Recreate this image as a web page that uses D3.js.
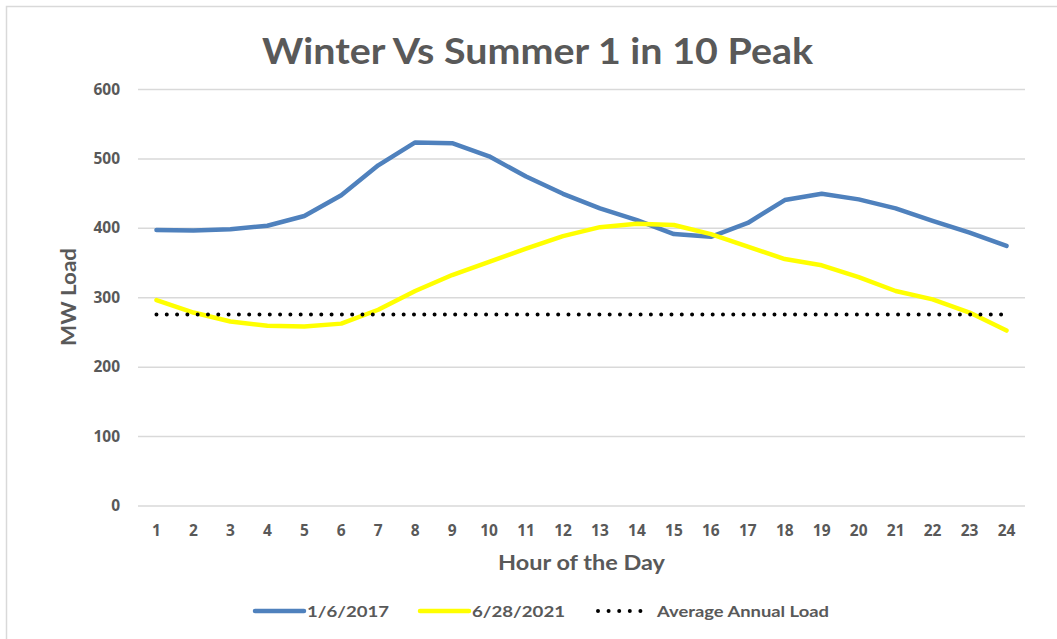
<!DOCTYPE html>
<html>
<head>
<meta charset="utf-8">
<script src="https://cdn.jsdelivr.net/npm/d3@7"></script>
<style>
  html, body { margin: 0; padding: 0; background: #fff; }
  svg { display: block; }
</style>
</head>
<body>
<svg id="chart" width="1057" height="639"></svg>
<script>
// Data
const hours = d3.range(1, 25);
const winter = [397, 396, 398, 403, 417, 447, 490, 523, 522, 503, 474, 449, 428, 411, 391, 387, 407, 440, 449, 441, 428, 410, 393, 374];
const summer = [296, 278, 265, 259, 258, 262, 282, 309, 332, 351, 370, 388, 401, 406, 404, 391, 373, 355, 346, 329, 309, 297, 278, 252];
const avgLoad = 275;
const yTicks = [0, 100, 200, 300, 400, 500, 600];
const seriesNames = ['1/6/2017', '6/28/2021', 'Average Annual Load'];

const svg = d3.select('#chart');
const textColor = '#595959';

// frame (right and bottom edges fall outside the picture)
svg.append('rect')
  .attr('x', 6.5).attr('y', 6.5)
  .attr('width', 1100).attr('height', 700)
  .attr('fill', 'none')
  .attr('stroke', '#d9d9d9')
  .attr('stroke-width', 1.5);

const x = d3.scaleBand().domain(hours).range([138, 1025]);
const xc = (h) => x(h) + x.bandwidth() / 2;
const y = d3.scaleLinear().domain([0, 600]).range([505.5, 89]);

// gridlines
svg.append('g')
  .attr('transform', 'translate(138,0)')
  .call(d3.axisLeft(y).tickValues(yTicks).tickSize(-887).tickFormat(''))
  .call((g) => g.select('.domain').remove())
  .call((g) => g.selectAll('line').attr('stroke', '#d9d9d9').attr('stroke-width', 1.5));

// y tick labels
svg.append('g')
  .selectAll('text')
  .data(yTicks)
  .enter()
  .append('text')
  .attr('x', 120)
  .attr('y', (d) => y(d))
  .attr('dy', '0.36em')
  .attr('text-anchor', 'end')
  .style('font-family', '"Open Sans", sans-serif')
  .style('font-weight', 700)
  .style('font-size', '15.5px')
  .attr('fill', textColor)
  .text((d) => d);

// x tick labels
svg.append('g')
  .selectAll('text')
  .data(hours)
  .enter()
  .append('text')
  .attr('x', (d) => xc(d))
  .attr('y', 536)
  .attr('text-anchor', 'middle')
  .style('font-family', '"Open Sans", sans-serif')
  .style('font-weight', 700)
  .style('font-size', '15.5px')
  .attr('fill', textColor)
  .text((d) => d);

// title + axis titles
svg.append('text')
  .attr('x', 537.5)
  .attr('y', 64)
  .attr('text-anchor', 'middle')
  .attr('textLength', 551)
  .attr('lengthAdjust', 'spacingAndGlyphs')
  .style('font-family', 'Lato, sans-serif')
  .style('font-weight', 700)
  .style('font-size', '37px')
  .attr('fill', textColor)
  .text('Winter Vs Summer 1 in 10 Peak');

svg.append('text')
  .attr('transform', 'translate(76,297) rotate(-90)')
  .attr('text-anchor', 'middle')
  .attr('textLength', 98)
  .attr('lengthAdjust', 'spacingAndGlyphs')
  .style('font-family', 'Lato, sans-serif')
  .style('font-weight', 700)
  .style('font-size', '20px')
  .attr('fill', textColor)
  .text('MW Load');

svg.append('text')
  .attr('x', 581.5)
  .attr('y', 570)
  .attr('text-anchor', 'middle')
  .attr('textLength', 167)
  .attr('lengthAdjust', 'spacingAndGlyphs')
  .style('font-family', 'Lato, sans-serif')
  .style('font-weight', 700)
  .style('font-size', '20px')
  .attr('fill', textColor)
  .text('Hour of the Day');

// lines
const line = d3.line()
  .x((d, i) => xc(hours[i]))
  .y((d) => y(d));

svg.append('path')
  .attr('d', line(winter))
  .attr('fill', 'none')
  .attr('stroke', '#4f81bd')
  .attr('stroke-width', 4.5)
  .attr('stroke-linejoin', 'round')
  .attr('stroke-linecap', 'round');

svg.append('path')
  .attr('d', line(summer))
  .attr('fill', 'none')
  .attr('stroke', '#ffff00')
  .attr('stroke-width', 4.5)
  .attr('stroke-linejoin', 'round')
  .attr('stroke-linecap', 'round');

svg.append('path')
  .attr('d', line(hours.map(() => avgLoad)))
  .attr('fill', 'none')
  .attr('stroke', '#000')
  .attr('stroke-width', 4)
  .attr('stroke-linecap', 'round')
  .attr('stroke-dasharray', '0 10.3');

// legend
const legendY = 611;
const legend = [
  { name: seriesNames[0], x0: 255, x1: 304, tx: 307, tl: 82, color: '#4f81bd', dash: null },
  { name: seriesNames[1], x0: 420, x1: 469, tx: 472, tl: 93, color: '#ffff00', dash: null },
  { name: seriesNames[2], x0: 598, x1: 651, tx: 657, tl: 172, color: '#000', dash: '0 10.6' },
];

legend.forEach((l) => {
  svg.append('line')
    .attr('x1', l.x0).attr('x2', l.x1)
    .attr('y1', legendY).attr('y2', legendY)
    .attr('stroke', l.color)
    .attr('stroke-width', l.dash ? 4 : 4.5)
    .attr('stroke-linecap', 'round')
    .attr('stroke-dasharray', l.dash);

  svg.append('text')
    .attr('x', l.tx)
    .attr('y', legendY)
    .attr('dy', '0.36em')
    .attr('textLength', l.tl)
    .attr('lengthAdjust', 'spacingAndGlyphs')
    .style('font-family', 'Lato, sans-serif')
    .style('font-weight', 700)
    .style('font-size', '16px')
    .attr('fill', textColor)
    .text(l.name);
});
</script>
</body>
</html>
